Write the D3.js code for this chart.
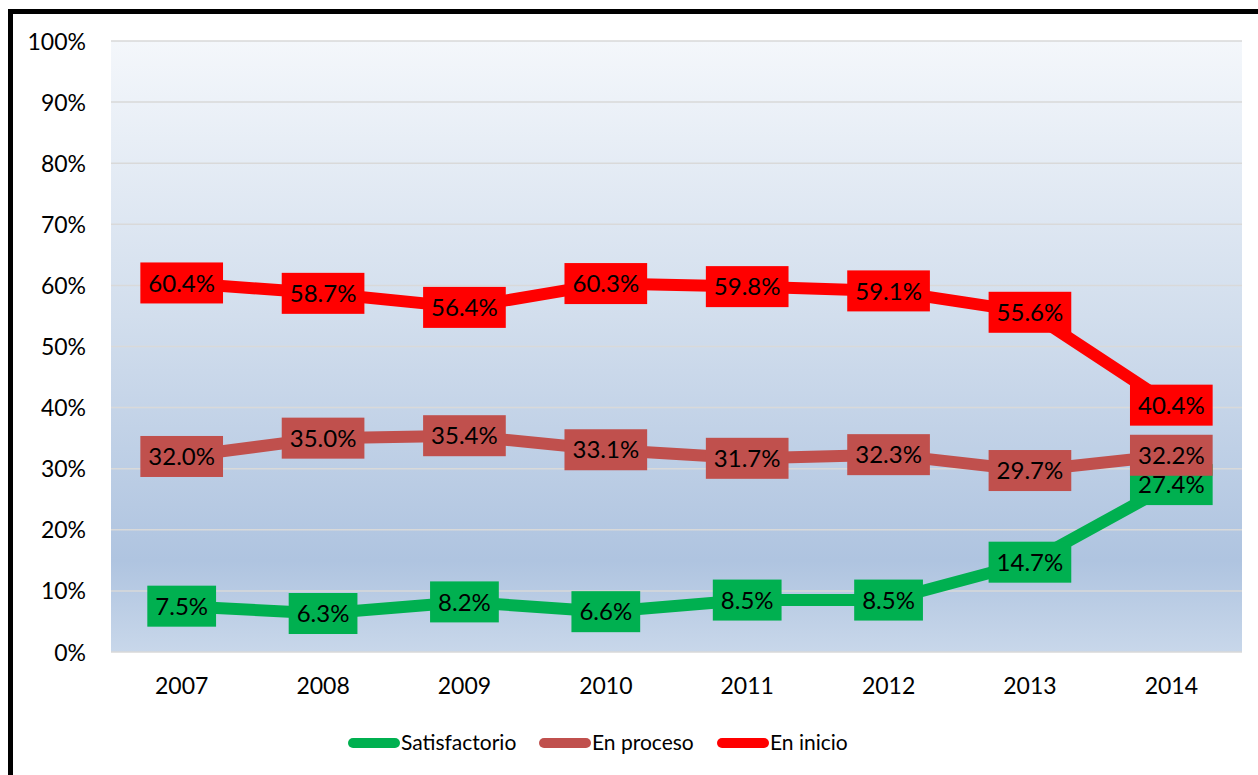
<!DOCTYPE html>
<html><head><meta charset="utf-8">
<script src="https://cdn.jsdelivr.net/npm/d3@7"></script>
<style>html,body{margin:0;padding:0;background:#fff;overflow:hidden}svg{display:block}</style>
</head><body>
<svg id="c" width="1258" height="775"></svg>
<script>
const years = ["2007","2008","2009","2010","2011","2012","2013","2014"];
const satisfactorio = [7.5, 6.3, 8.2, 6.6, 8.5, 8.5, 14.7, 27.4];
const enProceso = [32.0, 35.0, 35.4, 33.1, 31.7, 32.3, 29.7, 32.2];
const enInicio = [60.4, 58.7, 56.4, 60.3, 59.8, 59.1, 55.6, 40.4];
const seriesNames = ["Satisfactorio", "En proceso", "En inicio"];
const seriesColors = ["#00b050", "#c0504d", "#ff0000"];
const yTicks = [0,10,20,30,40,50,60,70,80,90,100];

(function(){
const series = [satisfactorio, enProceso, enInicio].map((v,i)=>({name:seriesNames[i], color:seriesColors[i], values:v}));

const svg = d3.select("#c");
const FONT = "Lato, 'Open Sans', sans-serif";
const pLeft = 111, pRight = 1242, pTop = 41, pBottom = 652;

// outer border
svg.append("rect").attr("x",10.5).attr("y",11.5).attr("width",1300).attr("height",900)
  .attr("fill","#fff").attr("stroke","#000").attr("stroke-width",5);

const defs = svg.append("defs");
const grad = defs.append("linearGradient").attr("id","bg").attr("x1",0).attr("y1",0).attr("x2",0).attr("y2",1);
[[0,"#f4f7fb"],[0.45,"#d2deed"],[0.85,"#afc4e0"],[1,"#c8d7ea"]].forEach(s=>grad.append("stop").attr("offset",s[0]).attr("stop-color",s[1]));

const x = d3.scaleBand().domain(years).range([pLeft,pRight]);
const y = d3.scaleLinear().domain([0,100]).range([pBottom,pTop]);

svg.append("rect").attr("x",pLeft).attr("y",pTop).attr("width",pRight-pLeft).attr("height",pBottom-pTop).attr("fill","url(#bg)");

// gridlines
svg.append("g").selectAll("line").data(yTicks).join("line")
  .attr("x1",pLeft).attr("x2",pRight).attr("y1",d=>y(d)).attr("y2",d=>y(d))
  .attr("stroke","#d9d9d9").attr("stroke-width",1.5);

// y axis
const yAxis = d3.axisLeft(y).tickValues(yTicks).tickFormat(d=>d+"%").tickSize(0).tickPadding(0);
const ya = svg.append("g").attr("transform",`translate(86,0)`).call(yAxis);
ya.select(".domain").remove();
ya.selectAll("text").attr("font-family",FONT).attr("font-size",23).attr("fill","#000").attr("dy","0.35em");

// x axis
const xAxis = d3.axisBottom(x).tickSize(0).tickPadding(0);
const xa = svg.append("g").attr("transform",`translate(0,686)`).call(xAxis);
xa.select(".domain").remove();
xa.selectAll("text").attr("font-family",FONT).attr("font-size",23).attr("fill","#000").attr("dy","0.35em");

const cx = d => x(d) + x.bandwidth()/2;
const line = d3.line().x((d,i)=>cx(years[i])).y(d=>y(d));

svg.append("g").selectAll("path").data(series).join("path")
  .attr("d",d=>line(d.values)).attr("fill","none").attr("stroke",d=>d.color)
  .attr("stroke-width",12).attr("stroke-linejoin","round");

// labels
series.forEach(s=>{
  const g = svg.append("g");
  s.values.forEach((v,i)=>{
    const lg = g.append("g").attr("transform",`translate(${cx(years[i])},${y(v)})`);
    const r = lg.append("rect").attr("fill",s.color);
    const t = lg.append("text").text(v.toFixed(1)+"%").attr("font-family",FONT).attr("font-size",24)
      .attr("text-anchor","middle").attr("dy","0.36em").attr("fill","#000");
    const w = t.node().getComputedTextLength() + 16;
    r.attr("x",-w/2).attr("y",-20.5).attr("width",w).attr("height",41);
  });
});

// legend
const legX = [348, 539, 717];
const lg = svg.append("g");
series.forEach((s,i)=>{
  lg.append("line").attr("x1",legX[i]+5).attr("x2",legX[i]+47).attr("y1",743).attr("y2",743)
    .attr("stroke",s.color).attr("stroke-width",10).attr("stroke-linecap","round");
  lg.append("text").attr("x",legX[i]+53).attr("y",743).attr("dy","0.35em").text(s.name)
    .attr("font-family",FONT).attr("font-size",21).attr("fill","#000");
});
})();
</script>
</body></html>
